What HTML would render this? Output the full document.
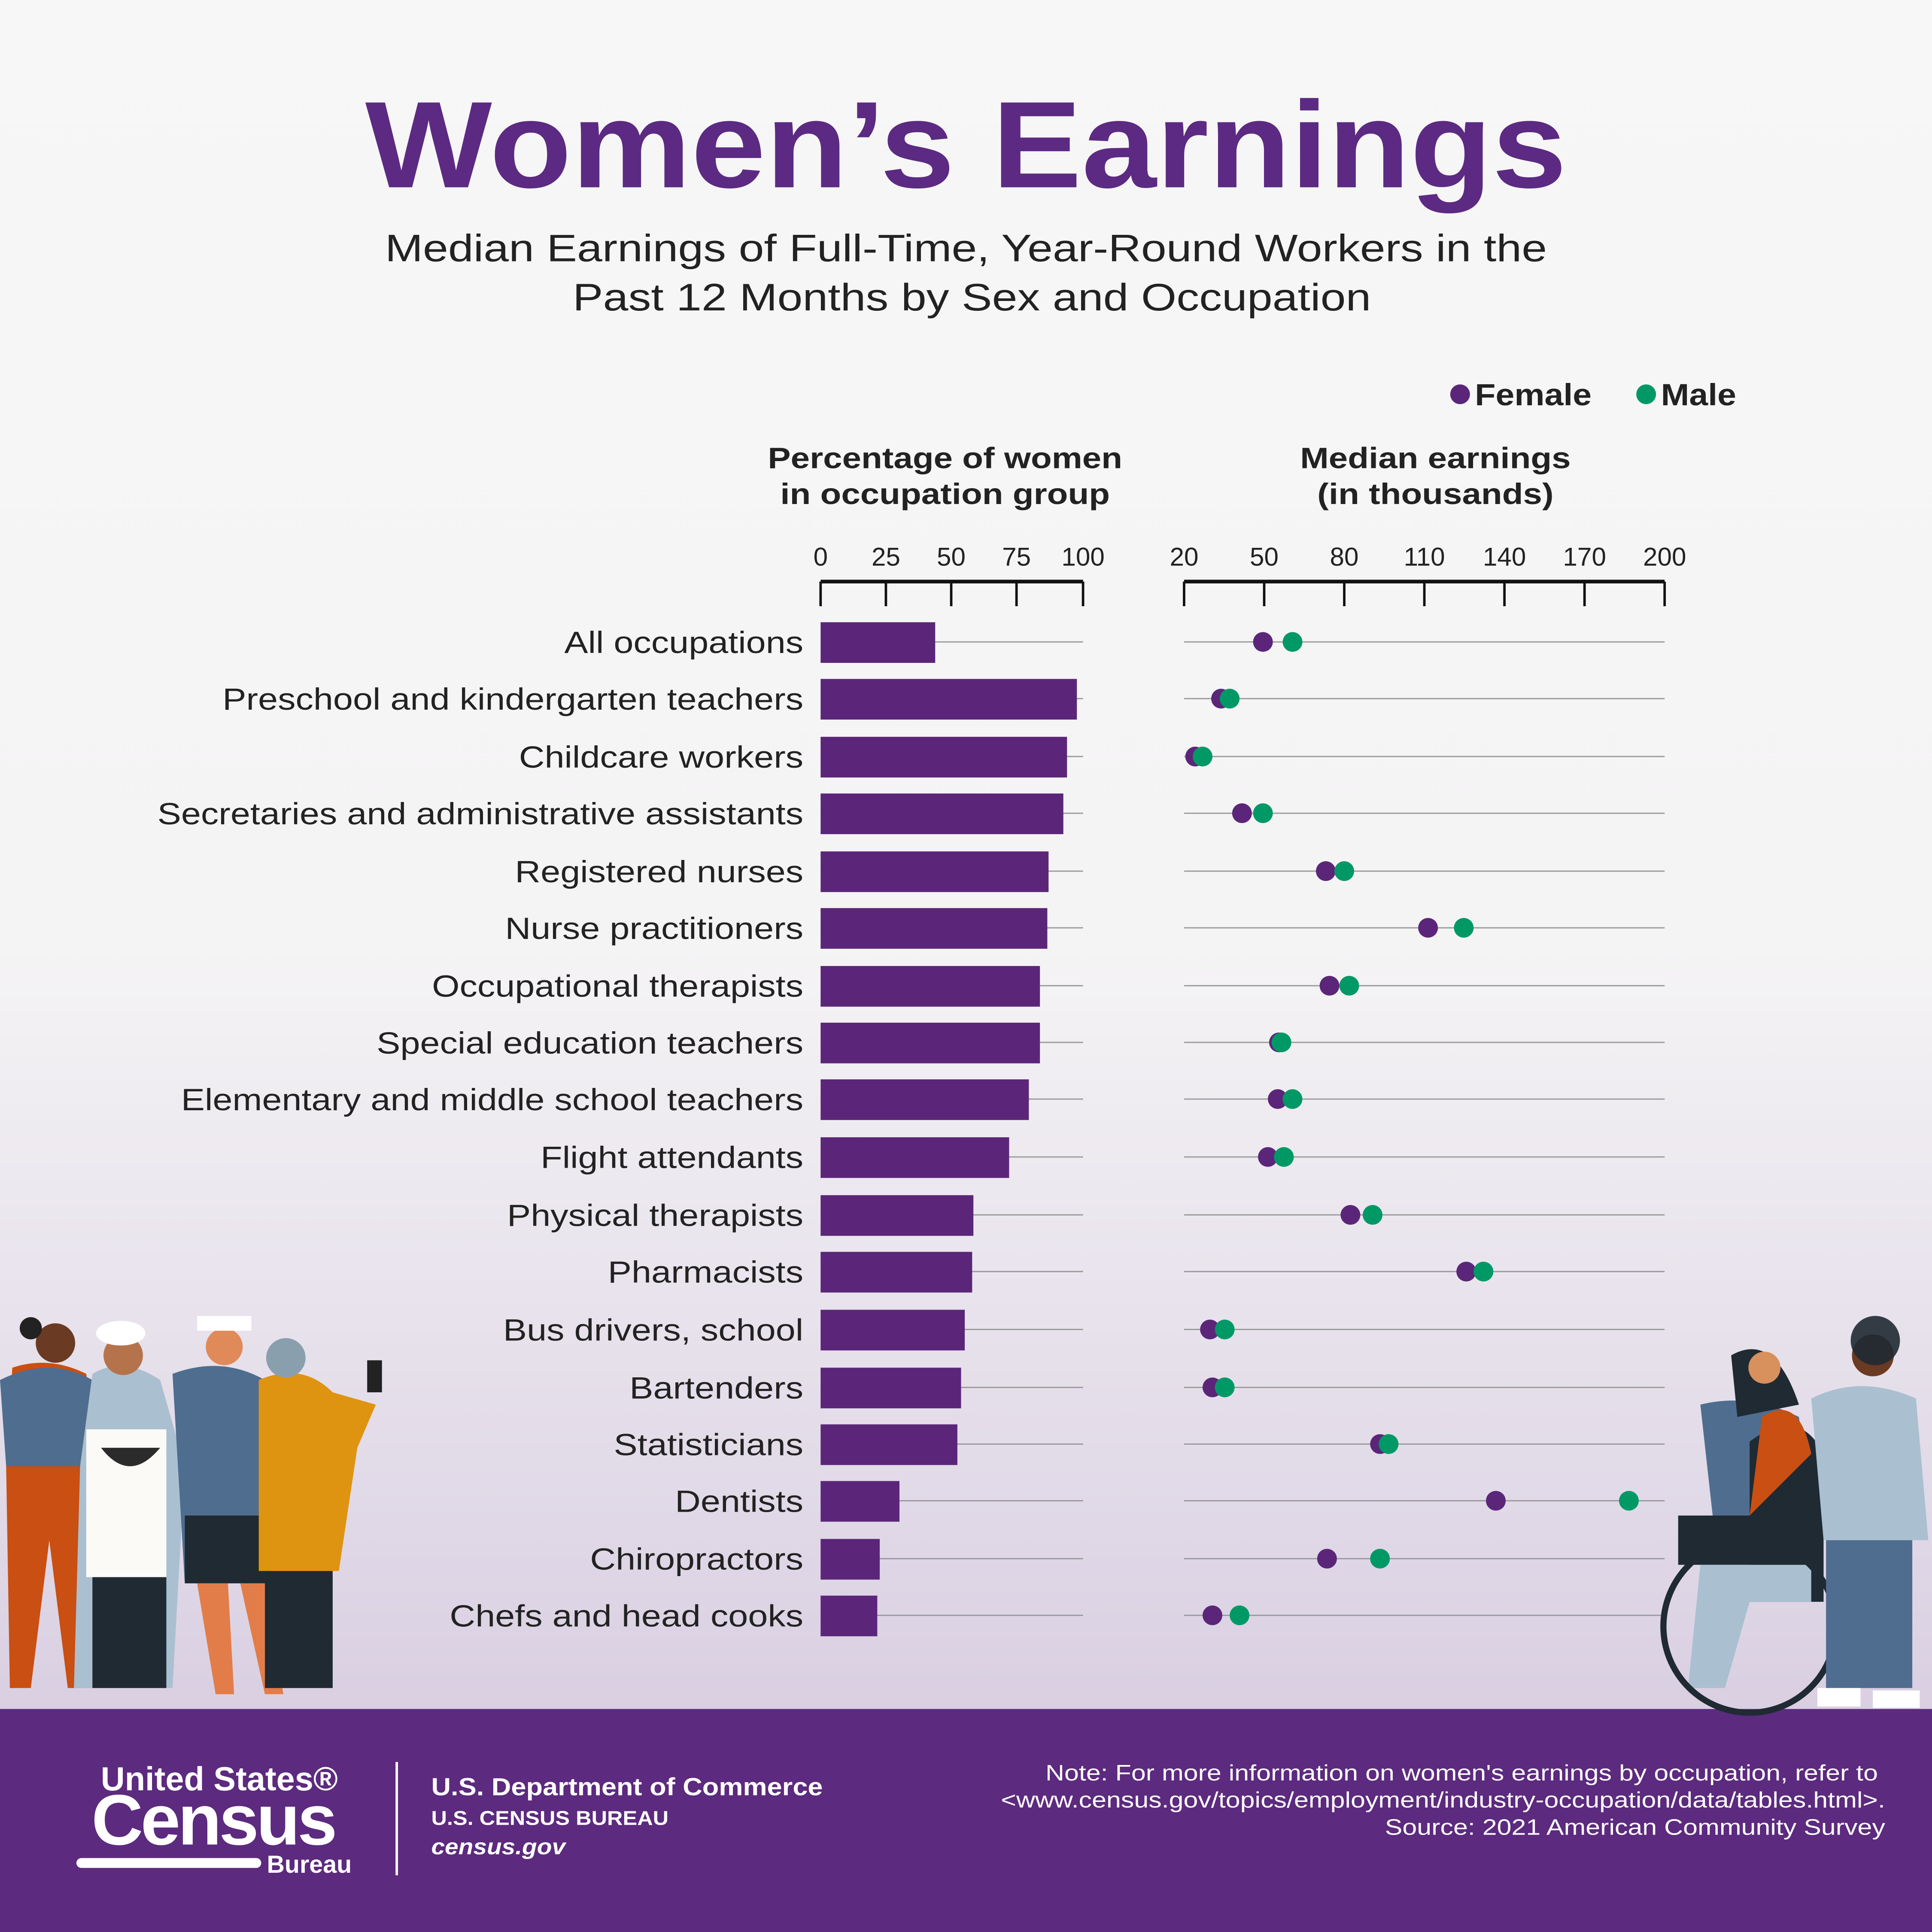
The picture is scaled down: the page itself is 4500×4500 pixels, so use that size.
<!DOCTYPE html>
<html><head><meta charset="utf-8"><style>
html,body{margin:0;padding:0;width:4500px;height:4500px;overflow:hidden;background:#f7f7f7}
svg{display:block}
text{font-family:"Liberation Sans",sans-serif}
</style></head><body>
<svg width="4500" height="4500" viewBox="0 0 1568 1568" xmlns="http://www.w3.org/2000/svg">
<defs>
<linearGradient id="bg" x1="0" y1="0" x2="0" y2="1">
<stop offset="0" stop-color="#f7f7f7"/><stop offset="0.55" stop-color="#f5f4f5"/><stop offset="1" stop-color="#d9cfe2"/>
</linearGradient>
</defs>
<rect x="0" y="0" width="1568" height="1390" fill="url(#bg)"/>
<rect x="0" y="1387" width="1568" height="181" fill="#5c2a7e"/>

<g transform="translate(784,0) scale(1.09,1) translate(-784,0)">
<text x="784" y="152" text-anchor="middle" font-size="100" font-weight="bold" fill="#5c2a82">Women’s Earnings</text>
</g>
<g transform="translate(784,0) scale(1.19,1) translate(-784,0)">
<text x="784" y="212" text-anchor="middle" font-size="31" fill="#222">Median Earnings of Full-Time, Year-Round Workers in the</text>
<text x="788" y="252" text-anchor="middle" font-size="31" fill="#222">Past 12 Months by Sex and Occupation</text>
</g>

<circle cx="1185" cy="320" r="8" fill="#5b2679"/>
<circle cx="1336" cy="320" r="8" fill="#009966"/>
<g transform="translate(1197,0) scale(1.1,1) translate(-1197,0)"><text x="1197" y="329" font-size="25" font-weight="bold" fill="#222">Female</text></g>
<g transform="translate(1348,0) scale(1.1,1) translate(-1348,0)"><text x="1348" y="329" font-size="25" font-weight="bold" fill="#222">Male</text></g>

<g transform="translate(767,0) scale(1.16,1) translate(-767,0)">
<text x="767" y="380" text-anchor="middle" font-size="24" font-weight="bold" fill="#222">Percentage of women</text>
<text x="767" y="409" text-anchor="middle" font-size="24" font-weight="bold" fill="#222">in occupation group</text>
</g>
<g transform="translate(1165,0) scale(1.16,1) translate(-1165,0)">
<text x="1165" y="380" text-anchor="middle" font-size="24" font-weight="bold" fill="#222">Median earnings</text>
<text x="1165" y="409" text-anchor="middle" font-size="24" font-weight="bold" fill="#222">(in thousands)</text>
</g>

<g font-size="21" fill="#222" text-anchor="middle">
<text x="666" y="459">0</text><text x="719" y="459">25</text><text x="772" y="459">50</text><text x="825" y="459">75</text><text x="879" y="459">100</text>
<text x="961" y="459">20</text><text x="1026" y="459">50</text><text x="1091" y="459">80</text><text x="1156" y="459">110</text><text x="1221" y="459">140</text><text x="1286" y="459">170</text><text x="1351" y="459">200</text>
</g>
<g stroke="#111" stroke-width="2" fill="none">
<line x1="666" y1="472" x2="879" y2="472" stroke-width="3"/>
<line x1="666" y1="472" x2="666" y2="492"/><line x1="719" y1="472" x2="719" y2="492"/><line x1="772" y1="472" x2="772" y2="492"/><line x1="825" y1="472" x2="825" y2="492"/><line x1="879" y1="472" x2="879" y2="492"/>
<line x1="961" y1="472" x2="1351" y2="472" stroke-width="3"/>
<line x1="961" y1="472" x2="961" y2="492"/><line x1="1026" y1="472" x2="1026" y2="492"/><line x1="1091" y1="472" x2="1091" y2="492"/><line x1="1156" y1="472" x2="1156" y2="492"/><line x1="1221" y1="472" x2="1221" y2="492"/><line x1="1286" y1="472" x2="1286" y2="492"/><line x1="1351" y1="472" x2="1351" y2="492"/>
</g>

<g stroke="#999" stroke-width="1">
<line x1="666" y1="521" x2="879" y2="521"/><line x1="961" y1="521" x2="1351" y2="521"/>
<line x1="666" y1="567" x2="879" y2="567"/><line x1="961" y1="567" x2="1351" y2="567"/>
<line x1="666" y1="614" x2="879" y2="614"/><line x1="961" y1="614" x2="1351" y2="614"/>
<line x1="666" y1="660" x2="879" y2="660"/><line x1="961" y1="660" x2="1351" y2="660"/>
<line x1="666" y1="707" x2="879" y2="707"/><line x1="961" y1="707" x2="1351" y2="707"/>
<line x1="666" y1="753" x2="879" y2="753"/><line x1="961" y1="753" x2="1351" y2="753"/>
<line x1="666" y1="800" x2="879" y2="800"/><line x1="961" y1="800" x2="1351" y2="800"/>
<line x1="666" y1="846" x2="879" y2="846"/><line x1="961" y1="846" x2="1351" y2="846"/>
<line x1="666" y1="892" x2="879" y2="892"/><line x1="961" y1="892" x2="1351" y2="892"/>
<line x1="666" y1="939" x2="879" y2="939"/><line x1="961" y1="939" x2="1351" y2="939"/>
<line x1="666" y1="986" x2="879" y2="986"/><line x1="961" y1="986" x2="1351" y2="986"/>
<line x1="666" y1="1032" x2="879" y2="1032"/><line x1="961" y1="1032" x2="1351" y2="1032"/>
<line x1="666" y1="1079" x2="879" y2="1079"/><line x1="961" y1="1079" x2="1351" y2="1079"/>
<line x1="666" y1="1126" x2="879" y2="1126"/><line x1="961" y1="1126" x2="1351" y2="1126"/>
<line x1="666" y1="1172" x2="879" y2="1172"/><line x1="961" y1="1172" x2="1351" y2="1172"/>
<line x1="666" y1="1218" x2="879" y2="1218"/><line x1="961" y1="1218" x2="1351" y2="1218"/>
<line x1="666" y1="1265" x2="879" y2="1265"/><line x1="961" y1="1265" x2="1351" y2="1265"/>
<line x1="666" y1="1311" x2="879" y2="1311"/><line x1="961" y1="1311" x2="1351" y2="1311"/>
</g>
<g fill="#5b2679">
<rect x="666" y="505" width="93" height="33"/>
<rect x="666" y="551" width="208" height="33"/>
<rect x="666" y="598" width="200" height="33"/>
<rect x="666" y="644" width="197" height="33"/>
<rect x="666" y="691" width="185" height="33"/>
<rect x="666" y="737" width="184" height="33"/>
<rect x="666" y="784" width="178" height="33"/>
<rect x="666" y="830" width="178" height="33"/>
<rect x="666" y="876" width="169" height="33"/>
<rect x="666" y="923" width="153" height="33"/>
<rect x="666" y="970" width="124" height="33"/>
<rect x="666" y="1016" width="123" height="33"/>
<rect x="666" y="1063" width="117" height="33"/>
<rect x="666" y="1110" width="114" height="33"/>
<rect x="666" y="1156" width="111" height="33"/>
<rect x="666" y="1202" width="64" height="33"/>
<rect x="666" y="1249" width="48" height="33"/>
<rect x="666" y="1295" width="46" height="33"/>
</g>
<g font-size="25" fill="#222" text-anchor="end" transform="translate(652,0) scale(1.154,1) translate(-652,0)">
<text x="652" y="530">All occupations</text>
<text x="652" y="576">Preschool and kindergarten teachers</text>
<text x="652" y="623">Childcare workers</text>
<text x="652" y="669">Secretaries and administrative assistants</text>
<text x="652" y="716">Registered nurses</text>
<text x="652" y="762">Nurse practitioners</text>
<text x="652" y="809">Occupational therapists</text>
<text x="652" y="855">Special education teachers</text>
<text x="652" y="901">Elementary and middle school teachers</text>
<text x="652" y="948">Flight attendants</text>
<text x="652" y="995">Physical therapists</text>
<text x="652" y="1041">Pharmacists</text>
<text x="652" y="1088">Bus drivers, school</text>
<text x="652" y="1135">Bartenders</text>
<text x="652" y="1181">Statisticians</text>
<text x="652" y="1227">Dentists</text>
<text x="652" y="1274">Chiropractors</text>
<text x="652" y="1320">Chefs and head cooks</text>
</g>
<g fill="#5b2679">
<circle cx="1025" cy="521" r="8"/><circle cx="991" cy="567" r="8"/><circle cx="970" cy="614" r="8"/><circle cx="1008" cy="660" r="8"/>
<circle cx="1076" cy="707" r="8"/><circle cx="1159" cy="753" r="8"/><circle cx="1079" cy="800" r="8"/><circle cx="1038" cy="846" r="8"/>
<circle cx="1037" cy="892" r="8"/><circle cx="1029" cy="939" r="8"/><circle cx="1096" cy="986" r="8"/><circle cx="1190" cy="1032" r="8"/>
<circle cx="982" cy="1079" r="8"/><circle cx="984" cy="1126" r="8"/><circle cx="1120" cy="1172" r="8"/><circle cx="1214" cy="1218" r="8"/>
<circle cx="1077" cy="1265" r="8"/><circle cx="984" cy="1311" r="8"/>
</g>
<g fill="#009966">
<circle cx="1049" cy="521" r="8"/><circle cx="998" cy="567" r="8"/><circle cx="976" cy="614" r="8"/><circle cx="1025" cy="660" r="8"/>
<circle cx="1091" cy="707" r="8"/><circle cx="1188" cy="753" r="8"/><circle cx="1095" cy="800" r="8"/><circle cx="1040" cy="846" r="8"/>
<circle cx="1049" cy="892" r="8"/><circle cx="1042" cy="939" r="8"/><circle cx="1114" cy="986" r="8"/><circle cx="1204" cy="1032" r="8"/>
<circle cx="994" cy="1079" r="8"/><circle cx="994" cy="1126" r="8"/><circle cx="1127" cy="1172" r="8"/><circle cx="1322" cy="1218" r="8"/>
<circle cx="1120" cy="1265" r="8"/><circle cx="1006" cy="1311" r="8"/>
</g>

<!-- left illustration (simplified) -->
<g>
<path d="M10 1110 Q40 1100 70 1115 L80 1190 L75 1370 L55 1370 L40 1250 L25 1370 L8 1370 L5 1190 Z" fill="#c94f12"/>
<path d="M0 1120 Q40 1100 75 1120 L80 1190 L5 1190 Z" fill="#4f6d8f"/>
<circle cx="45" cy="1090" r="16" fill="#6b3a22"/><circle cx="25" cy="1078" r="9" fill="#222"/>
<path d="M75 1115 Q100 1100 130 1120 L150 1190 L140 1370 L60 1370 L65 1190 Z" fill="#aac0d0"/>
<path d="M70 1160 L135 1160 L135 1280 L70 1280 Z" fill="#fbfaf6"/>
<rect x="75" y="1280" width="60" height="90" fill="#1f2a33"/>
<circle cx="100" cy="1100" r="16" fill="#b5734c"/><ellipse cx="98" cy="1082" rx="20" ry="10" fill="#fff"/>
<path d="M82 1175 Q105 1205 130 1175 Z" fill="#2b2b2b"/>
<path d="M140 1115 Q180 1100 215 1120 L220 1285 L150 1285 Z" fill="#4f6d8f"/>
<rect x="150" y="1230" width="68" height="55" fill="#1f2a33"/>
<path d="M160 1285 L175 1375 L190 1375 L185 1285 Z M195 1285 L215 1375 L230 1375 L215 1285 Z" fill="#e27d4a"/>
<circle cx="182" cy="1093" r="15" fill="#e08a5a"/><rect x="160" y="1068" width="44" height="12" fill="#fff"/>
<path d="M210 1120 Q245 1105 270 1130 L305 1140 L290 1175 L275 1275 L210 1275 Z" fill="#de9410"/>
<rect x="215" y="1275" width="55" height="95" fill="#1f2a33"/>
<circle cx="232" cy="1102" r="16" fill="#8a9fae"/>
<rect x="298" y="1104" width="12" height="26" fill="#222"/>
</g>
<!-- right illustration (simplified) -->
<g>
<path d="M1380 1140 Q1420 1130 1460 1150 L1470 1230 L1390 1230 Z" fill="#4f6d8f"/>
<path d="M1405 1100 Q1440 1080 1460 1140 L1410 1150 Z" fill="#1f2a33"/>
<circle cx="1432" cy="1110" r="13" fill="#d8905d"/>
<path d="M1420 1170 Q1460 1140 1480 1180 L1480 1300 L1420 1300 Z" fill="#1f2a33"/>
<path d="M1430 1150 Q1460 1130 1470 1180 L1420 1230 Z" fill="#c94f12"/>
<rect x="1362" y="1230" width="70" height="40" fill="#1f2a33"/>
<path d="M1380 1270 L1470 1270 L1470 1300 L1420 1300 L1400 1370 L1370 1370 Z" fill="#aac0d0"/>
<circle cx="1420" cy="1320" r="70" fill="none" stroke="#1f2a33" stroke-width="5"/>
<path d="M1470 1135 Q1510 1115 1555 1135 L1565 1250 L1480 1250 Z" fill="#aac0d0"/>
<rect x="1482" y="1250" width="70" height="120" fill="#4f6d8f"/>
<circle cx="1520" cy="1100" r="17" fill="#6b3a22"/><circle cx="1522" cy="1088" r="20" fill="#1f2a33" opacity="0.9"/>
<rect x="1475" y="1370" width="35" height="15" fill="#fff"/><rect x="1520" y="1372" width="38" height="14" fill="#fff"/>
</g>

<!-- footer -->
<g fill="#fff">
<text x="178" y="1453" text-anchor="middle" font-size="27" font-weight="bold">United States®</text>
<text x="173" y="1497" text-anchor="middle" font-size="58" font-weight="bold" letter-spacing="-2">Census</text>
<rect x="62" y="1508" width="150" height="8" rx="4"/>
<text x="251" y="1520" text-anchor="middle" font-size="20" font-weight="bold">Bureau</text>
<rect x="321" y="1430" width="2" height="92"/>
<g transform="translate(350,0) scale(1.1,1) translate(-350,0)">
<text x="350" y="1457" font-size="20" font-weight="bold">U.S. Department of Commerce</text>
<text x="350" y="1481" font-size="16" font-weight="bold">U.S. CENSUS BUREAU</text>
<text x="350" y="1505" font-size="18" font-weight="bold" font-style="italic">census.gov</text>
</g>
<g transform="translate(1530,0) scale(1.18,1) translate(-1530,0)">
<text x="1525" y="1445" text-anchor="end" font-size="18">Note: For more information on women's earnings by occupation, refer to</text>
<text x="1530" y="1467" text-anchor="end" font-size="18">&lt;www.census.gov/topics/employment/industry-occupation/data/tables.html&gt;.</text>
<text x="1530" y="1489" text-anchor="end" font-size="18">Source: 2021 American Community Survey</text>
</g>
</g>
</svg>
</body></html>
